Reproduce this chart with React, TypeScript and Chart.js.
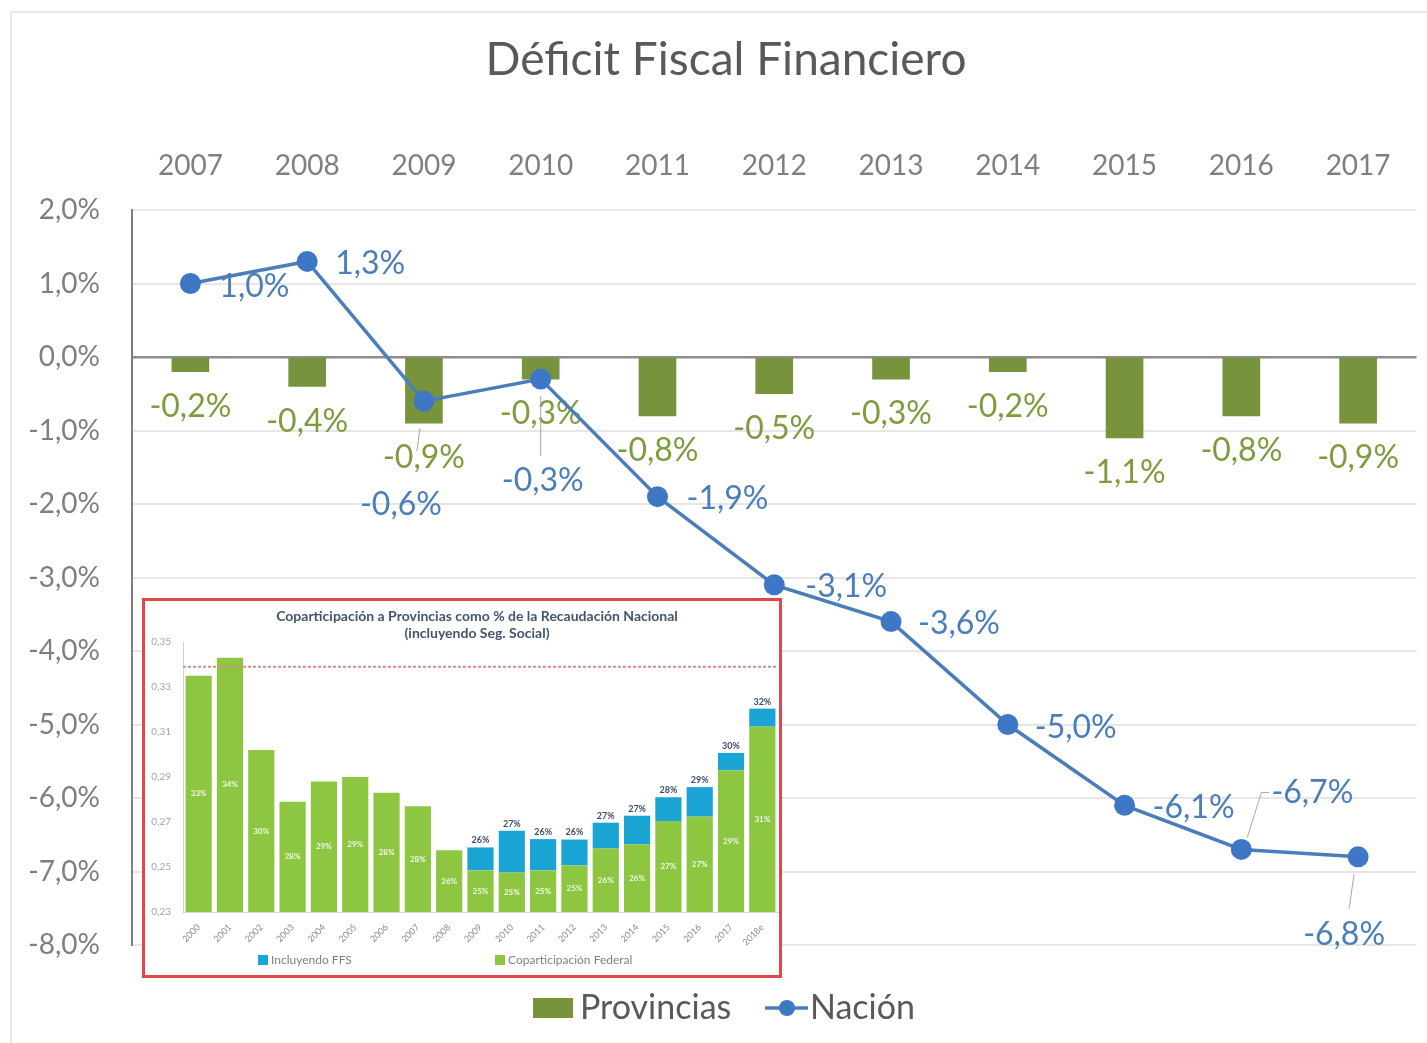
import React, { useEffect, useRef } from 'react';
import { Chart, registerables } from 'chart.js';

Chart.register(...registerables);

// ---------- main chart data ----------
const years = ['2007', '2008', '2009', '2010', '2011', '2012', '2013', '2014', '2015', '2016', '2017'];
const provincias = [-0.2, -0.4, -0.9, -0.3, -0.8, -0.5, -0.3, -0.2, -1.1, -0.8, -0.9];
const nacion = [1.0, 1.3, -0.6, -0.3, -1.9, -3.1, -3.6, -5.0, -6.1, -6.7, -6.8];
const yMin = -8;
const yMax = 2;

// ---------- inset chart data ----------
const insetYears = ['2000', '2001', '2002', '2003', '2004', '2005', '2006', '2007', '2008', '2009', '2010', '2011', '2012', '2013', '2014', '2015', '2016', '2017', '2018e'];
const coparticipacion = [0.335, 0.343, 0.302, 0.279, 0.288, 0.29, 0.283, 0.277, 0.2575, 0.2485, 0.2476, 0.2485, 0.2507, 0.2582, 0.2601, 0.2704, 0.2724, 0.293, 0.3124];
const ffs = [0, 0, 0, 0, 0, 0, 0, 0, 0, 0.0102, 0.0185, 0.0139, 0.0115, 0.0115, 0.0127, 0.0106, 0.0131, 0.0077, 0.008];
const insetInnerLabels = ['33%', '34%', '30%', '28%', '29%', '29%', '28%', '28%', '26%', '25%', '25%', '25%', '25%', '26%', '26%', '27%', '27%', '29%', '31%'];
const insetTopLabels = ['', '', '', '', '', '', '', '', '', '26%', '27%', '26%', '26%', '27%', '27%', '28%', '29%', '30%', '32%'];
const insetReference = 0.339;
const insetYMin = 0.23;
const insetYMax = 0.35;

// ---------- layout of labels (offsets in px from the point) ----------
const nacionLabelOffsets: [number, number][] = [
  [64, 3], [63, 2], [-23, 104], [2, 102], [70, 2], [72, 2], [68, 2], [68, 3], [69, 2], [71, -57], [-14, 78],
];
const nacionLeaders: ([number, number][] | null)[] = [
  null, null, [[-4, 27], [-7, 50]], [[0, 17], [0, 77]], null, null, null, null, null,
  [[6, -12], [20, -57], [28, -57]], [[-4, 17], [-9, 52]],
];

const FONT = 'Lato, "Open Sans", sans-serif';
const GREEN = '#77933c';
const GREEN_TEXT = '#7d9c3c';
const BLUE = '#4a7ebb';
const BLUE_DOT = '#3d77c6';
const GRAY_TEXT = '#7f7f7f';

const fmtPct = (v: number) => v.toFixed(1).replace('.', ',') + '%';

const mainPlugin = {
  id: 'mainPlugin',
  afterDatasetDraw(chart: any, args: any) {
    if (args.index !== 0) return;
    const ctx = chart.ctx;
    const meta = chart.getDatasetMeta(0);
    ctx.save();
    ctx.font = `32px ${FONT}`;
    ctx.fillStyle = GREEN_TEXT;
    ctx.textAlign = 'center';
    ctx.textBaseline = 'middle';
    meta.data.forEach((bar: any, i: number) => {
      ctx.fillText(fmtPct(provincias[i]), bar.x, bar.y + 35);
    });
    ctx.restore();
  },
  afterDatasetsDraw(chart: any) {
    const ctx = chart.ctx;
    const meta = chart.getDatasetMeta(1);
    ctx.save();
    ctx.strokeStyle = '#a6a6a6';
    ctx.lineWidth = 1;
    meta.data.forEach((pt: any, i: number) => {
      const l = nacionLeaders[i];
      if (!l) return;
      ctx.beginPath();
      l.forEach(([dx, dy], k) => {
        if (k === 0) ctx.moveTo(pt.x + dx, pt.y + dy);
        else ctx.lineTo(pt.x + dx, pt.y + dy);
      });
      ctx.stroke();
    });
    ctx.font = `32px ${FONT}`;
    ctx.fillStyle = BLUE;
    ctx.textAlign = 'center';
    ctx.textBaseline = 'middle';
    meta.data.forEach((pt: any, i: number) => {
      const [dx, dy] = nacionLabelOffsets[i];
      ctx.fillText(fmtPct(nacion[i]), pt.x + dx, pt.y + dy);
    });
    ctx.restore();
  },
  afterDraw(chart: any) {
    const ctx = chart.ctx;
    ctx.save();
    // title
    ctx.font = `46px ${FONT}`;
    ctx.fillStyle = '#595959';
    ctx.textAlign = 'center';
    ctx.textBaseline = 'middle';
    ctx.fillText('Déficit Fiscal Financiero', 726, 60);
    // legend
    const ly = 1008;
    ctx.fillStyle = GREEN;
    ctx.fillRect(533, ly - 10, 40, 20);
    ctx.font = `34px ${FONT}`;
    ctx.fillStyle = '#595959';
    ctx.textAlign = 'left';
    ctx.fillText(chart.data.datasets[0].label, 580, ly);
    ctx.strokeStyle = BLUE;
    ctx.lineWidth = 3.5;
    ctx.beginPath();
    ctx.moveTo(765, ly);
    ctx.lineTo(808, ly);
    ctx.stroke();
    ctx.fillStyle = BLUE_DOT;
    ctx.beginPath();
    ctx.arc(787, ly, 8, 0, Math.PI * 2);
    ctx.fill();
    ctx.fillStyle = '#595959';
    ctx.fillText(chart.data.datasets[1].label, 810, ly);
    ctx.restore();
  },
};

const insetPlugin = {
  id: 'insetPlugin',
  afterDatasetsDraw(chart: any) {
    const ctx = chart.ctx;
    const area = chart.chartArea;
    const y = chart.scales.y;
    ctx.save();
    // reference dashed line
    const ry = y.getPixelForValue(insetReference);
    ctx.strokeStyle = '#d68a8e';
    ctx.lineWidth = 2;
    ctx.setLineDash([3, 2]);
    ctx.beginPath();
    ctx.moveTo(area.left, ry);
    ctx.lineTo(area.right, ry);
    ctx.stroke();
    ctx.setLineDash([]);
    // inner labels
    const m0 = chart.getDatasetMeta(0);
    ctx.font = `bold 8px ${FONT}`;
    ctx.fillStyle = 'rgba(255,255,255,0.9)';
    ctx.textAlign = 'center';
    ctx.textBaseline = 'middle';
    m0.data.forEach((bar: any, i: number) => {
      const bottom = Math.min(bar.base, area.bottom);
      ctx.fillText(insetInnerLabels[i], bar.x, (bar.y + bottom) / 2);
    });
    // top labels
    const m1 = chart.getDatasetMeta(1);
    ctx.font = `bold 9px ${FONT}`;
    ctx.fillStyle = '#3c4a6e';
    m1.data.forEach((bar: any, i: number) => {
      if (!insetTopLabels[i]) return;
      ctx.fillText(insetTopLabels[i], bar.x, bar.y - 7);
    });
    ctx.restore();
  },
  afterDraw(chart: any) {
    const ctx = chart.ctx;
    ctx.save();
    ctx.fillStyle = '#44546a';
    ctx.textAlign = 'center';
    ctx.textBaseline = 'middle';
    ctx.font = `bold 14px ${FONT}`;
    ctx.fillText('Coparticipación a Provincias como % de la Recaudación Nacional', 332, 15, 478);
    ctx.fillText('(incluyendo Seg. Social)', 332, 32, 176);
    // legend
    const ly = 359;
    ctx.font = `12px ${FONT}`;
    ctx.textAlign = 'left';
    ctx.fillStyle = chart.data.datasets[1].backgroundColor;
    ctx.fillRect(113, ly - 5, 10, 10);
    ctx.fillStyle = '#7f7f7f';
    ctx.fillText(chart.data.datasets[1].label, 126, ly, 105);
    ctx.fillStyle = chart.data.datasets[0].backgroundColor;
    ctx.fillRect(350, ly - 5, 10, 10);
    ctx.fillStyle = '#7f7f7f';
    ctx.fillText(chart.data.datasets[0].label, 363, ly, 160);
    ctx.restore();
  },
};

export default function App() {
  const mainRef = useRef<HTMLCanvasElement>(null);
  const insetRef = useRef<HTMLCanvasElement>(null);

  useEffect(() => {
    const main = new Chart(mainRef.current as HTMLCanvasElement, {
      type: 'bar',
      data: {
        labels: years,
        datasets: [
          {
            type: 'bar',
            label: 'Provincias',
            data: provincias,
            backgroundColor: GREEN,
            barThickness: 37,
            order: 2,
          } as any,
          {
            type: 'line',
            label: 'Nación',
            data: nacion,
            borderColor: BLUE,
            borderWidth: 3.5,
            pointRadius: 10.5,
            pointBackgroundColor: BLUE_DOT,
            pointBorderColor: BLUE_DOT,
            pointBorderWidth: 0,
            tension: 0,
            order: 1,
          } as any,
        ],
      },
      options: {
        responsive: false,
        animation: false,
        layout: { padding: { left: 0, right: 5, top: 0, bottom: 98 } },
        plugins: { legend: { display: false }, title: { display: false }, tooltip: { enabled: false } },
        scales: {
          x: {
            position: 'top',
            offset: true,
            grid: { display: false, drawTicks: false },
            border: { display: false },
            ticks: { padding: 27, color: GRAY_TEXT, font: { family: FONT, size: 28 } },
            afterFit: (s: any) => { s.height = 210; },
          },
          y: {
            min: yMin,
            max: yMax,
            ticks: {
              stepSize: 1,
              padding: 32,
              color: GRAY_TEXT,
              font: { family: FONT, size: 28 },
              callback: (v: any) => fmtPct(Number(v)),
            },
            grid: {
              drawTicks: false,
              color: (c: any) => (c.tick && c.tick.value === 0 ? '#8c8c8c' : '#e6e6e6'),
              lineWidth: (c: any) => (c.tick && c.tick.value === 0 ? 2.5 : 2),
            },
            border: { display: true, color: '#7f7f7f', width: 2 },
            afterFit: (s: any) => { s.width = 132; },
          },
        },
      } as any,
      plugins: [mainPlugin],
    });

    const inset = new Chart(insetRef.current as HTMLCanvasElement, {
      type: 'bar',
      data: {
        labels: insetYears,
        datasets: [
          {
            label: 'Coparticipación Federal',
            data: coparticipacion,
            backgroundColor: '#8dc641',
            stack: 's',
            barPercentage: 0.88,
            categoryPercentage: 0.95,
          },
          {
            label: 'Incluyendo FFS',
            data: ffs,
            backgroundColor: '#19a4d4',
            stack: 's',
            barPercentage: 0.88,
            categoryPercentage: 0.95,
          },
        ],
      },
      options: {
        responsive: false,
        animation: false,
        layout: { padding: { top: 41, left: 0, right: 1, bottom: 25 } },
        plugins: { legend: { display: false }, title: { display: false }, tooltip: { enabled: false } },
        scales: {
          x: {
            stacked: true,
            grid: { display: false },
            border: { display: true, color: '#d9d9d9' },
            ticks: {
              autoSkip: false,
              maxRotation: 45,
              minRotation: 45,
              padding: 2,
              color: '#8c8c8c',
              font: { family: FONT, size: 9 },
            },
            afterFit: (s: any) => { s.height = 38; },
          },
          y: {
            stacked: true,
            min: insetYMin,
            max: insetYMax,
            ticks: {
              stepSize: 0.02,
              padding: 4,
              color: '#a6a6a6',
              font: { family: FONT, size: 10 },
              callback: (v: any) => Number(v).toFixed(2).replace('.', ','),
            },
            grid: { display: false },
            border: { display: true, color: '#d0d0d0' },
            afterFit: (s: any) => { s.width = 38; },
          },
        },
      } as any,
      plugins: [insetPlugin],
    });

    return () => {
      main.destroy();
      inset.destroy();
    };
  }, []);

  return (
    <div style={{ position: 'absolute', left: 0, top: 0, width: 1427, height: 1043, overflow: 'hidden', background: '#ffffff' }}>
      <div
        style={{
          position: 'absolute',
          left: 10,
          top: 11,
          width: 1440,
          height: 1060,
          border: '2px solid #e8e8e8',
        }}
      />
      <canvas ref={mainRef} width={1427} height={1043} style={{ position: 'absolute', left: 0, top: 0 }} />
      <div
        style={{
          position: 'absolute',
          left: 142,
          top: 598,
          width: 640,
          height: 380,
          boxSizing: 'border-box',
          border: '3px solid #e0464a',
          background: '#ffffff',
        }}
      >
        <canvas ref={insetRef} width={634} height={374} style={{ display: 'block' }} />
      </div>
    </div>
  );
}
